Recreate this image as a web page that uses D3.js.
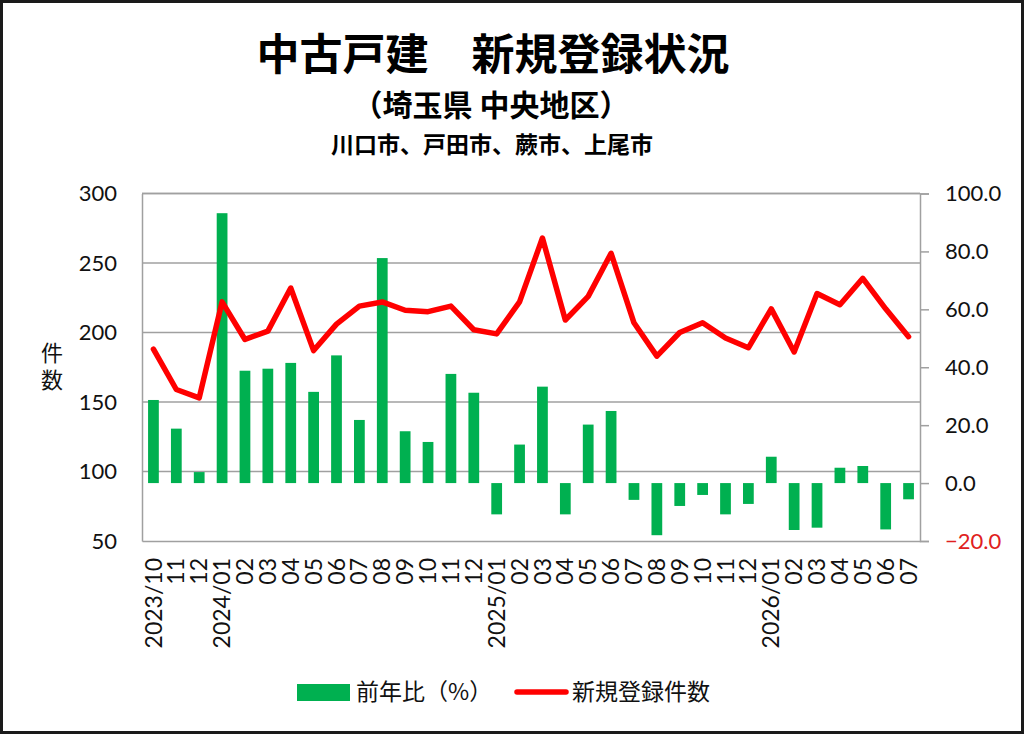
<!DOCTYPE html>
<html><head><meta charset="utf-8">
<script src="https://cdn.jsdelivr.net/npm/d3@7/dist/d3.min.js"></script>
<style>
html,body{margin:0;padding:0;background:#fff;}
svg{display:block;}
</style></head>
<body>
<svg id="c" width="1024" height="734"></svg>
<script>
const months = ["2023/10","11","12","2024/01","02","03","04","05","06","07","08","09","10","11","12",
  "2025/01","02","03","04","05","06","07","08","09","10","11","12",
  "2026/01","02","03","04","05","06","07"];
const counts = [188,159,153,222,195,201,232,187,206,219,222,216,215,219,202,
  199,222,268,209,226,257,207,183,200,207,196,189,
  217,186,228,220,239,217,197];
const yoy = [28.7,18.8,3.8,93.2,38.8,39.5,41.5,31.5,44.1,21.8,77.7,17.9,14.2,37.7,31.2,
  -10.8,13.3,33.3,-10.8,20.2,24.9,-5.8,-18.0,-7.9,-4.1,-10.8,-7.2,
  9.1,-16.2,-15.4,5.3,5.9,-16.0,-5.6];
const leftTicks = [50,100,150,200,250,300];
const rightTicks = [-20,0,20,40,60,80,100];
const title = "中古戸建　新規登録状況";
const sub1 = "（埼玉県 中央地区）";
const sub2 = "川口市、戸田市、蕨市、上尾市";
const yLabel = "件数";
const legendBar = "前年比（%）";
const legendLine = "新規登録件数";

const JP = "'Noto Sans CJK JP', sans-serif";
const NUM = "Lato, 'Noto Sans', sans-serif";
const GREEN = "#00B050", RED = "#FF0000", GRID = "#A0A0A0";

const svg = d3.select("#c");
svg.append("rect").attr("x",1.5).attr("y",1.5).attr("width",1021).attr("height",731)
  .attr("fill","#fff").attr("stroke","#1a1a1a").attr("stroke-width",3);

const L = 142, R = 920, T = 193.5, B = 541;
const x = d3.scaleBand().domain(d3.range(months.length)).range([L,R]).padding(0);
const yL = d3.scaleLinear().domain([50,300]).range([B,T]);
const yR = d3.scaleLinear().domain([-20,100]).range([B,T]);
const bw = x.bandwidth()*0.47;

// gridlines
svg.append("g").selectAll("line").data(leftTicks.filter(d=>d>50)).join("line")
  .attr("x1",L).attr("x2",R).attr("y1",d=>yL(d)).attr("y2",d=>yL(d))
  .attr("stroke",GRID).attr("stroke-width",1.5);

// bars
svg.append("g").selectAll("rect").data(yoy).join("rect")
  .attr("x",(d,i)=>x(i)+x.bandwidth()/2-bw/2)
  .attr("width",bw)
  .attr("y",d=>Math.min(yR(d),yR(0)))
  .attr("height",d=>Math.abs(yR(d)-yR(0)))
  .attr("fill",GREEN);

// axes frame
const axL = svg.append("g").attr("transform",`translate(${L},0)`)
  .call(d3.axisLeft(yL).tickValues(leftTicks).tickSize(0).tickPadding(25).tickFormat(d3.format("d")));
axL.select(".domain").attr("stroke",GRID).attr("stroke-width",1.5);
axL.selectAll("text").attr("font-family",NUM).attr("font-size",22).attr("fill","#111");

const axR = svg.append("g").attr("transform",`translate(${R},0)`)
  .call(d3.axisRight(yR).tickValues(rightTicks).tickSize(9).tickPadding(16).tickFormat(d3.format(".1f")));
axR.select(".domain").attr("stroke",GRID).attr("stroke-width",1.5);
axR.selectAll(".tick line").attr("stroke",GRID).attr("stroke-width",1.5);
axR.selectAll("text").attr("font-family",NUM).attr("font-size",22)
  .attr("fill",d=>d<0?"#E02020":"#111");

const axB = svg.append("g").attr("transform",`translate(0,${B})`)
  .call(d3.axisBottom(x).tickSize(0).tickFormat(i=>months[i]));
axB.select(".domain").attr("stroke",GRID).attr("stroke-width",1.5);
axB.selectAll("text").attr("font-family",NUM).attr("font-size",23).attr("fill","#111")
  .attr("text-anchor","end").attr("dy","0.35em")
  .attr("transform","translate(0,17) rotate(-90)").attr("x",0).attr("y",0);

// top border line
svg.append("line").attr("x1",L).attr("x2",R).attr("y1",T).attr("y2",T)
  .attr("stroke",GRID).attr("stroke-width",1.5);

// line
const line = d3.line().x((d,i)=>x(i)+x.bandwidth()/2).y(d=>yL(d));
svg.append("path").datum(counts).attr("d",line).attr("fill","none")
  .attr("stroke",RED).attr("stroke-width",5.5).attr("stroke-linejoin","round").attr("stroke-linecap","round");

// titles
svg.append("text").attr("x",493).attr("y",70).attr("text-anchor","middle")
  .attr("font-family",JP).attr("font-weight",700).attr("font-size",43).attr("fill","#000").text(title);
svg.append("text").attr("x",491).attr("y",116).attr("text-anchor","middle")
  .attr("font-family",JP).attr("font-weight",700).attr("font-size",30).attr("fill","#000").text(sub1);
svg.append("text").attr("x",492).attr("y",153).attr("text-anchor","middle")
  .attr("font-family",JP).attr("font-weight",700).attr("font-size",23).attr("fill","#000").text(sub2);

// y label (single vertical text)
svg.append("text").attr("x",52).attr("y",369).attr("text-anchor","middle")
  .style("writing-mode","vertical-rl").attr("letter-spacing",5)
  .attr("font-family",JP).attr("font-size",22).attr("fill","#111").text(yLabel);

// legend
const lg = svg.append("g");
lg.append("rect").attr("x",297).attr("y",684).attr("width",53).attr("height",17).attr("fill",GREEN);
lg.append("text").attr("x",356).attr("y",700).attr("font-family",JP).attr("font-size",23).attr("fill","#111").text(legendBar);
lg.append("line").attr("x1",517).attr("x2",566).attr("y1",692).attr("y2",692)
  .attr("stroke",RED).attr("stroke-width",5.5).attr("stroke-linecap","round");
lg.append("text").attr("x",572).attr("y",700).attr("font-family",JP).attr("font-size",23).attr("fill","#111").text(legendLine);
</script>
</body></html>
